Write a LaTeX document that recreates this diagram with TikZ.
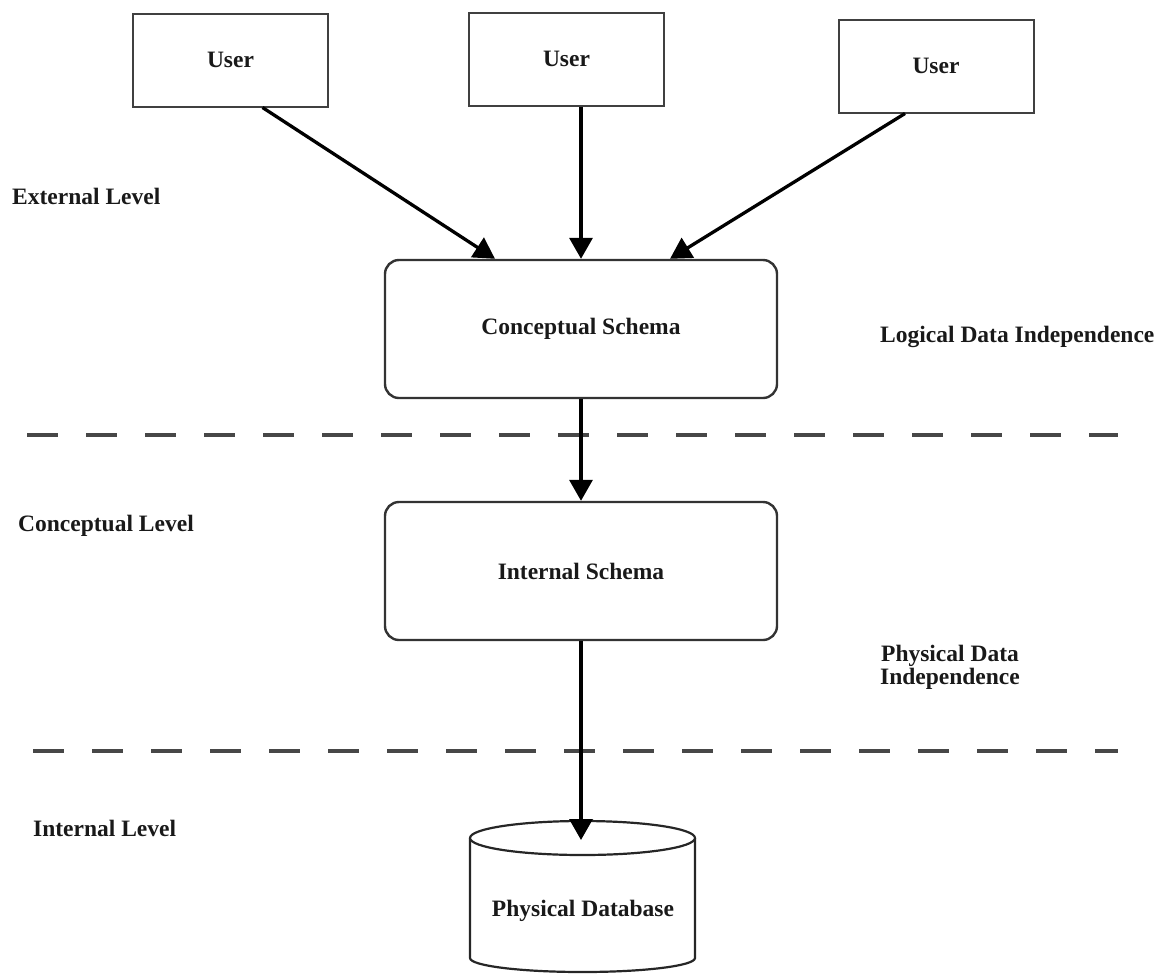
\documentclass[tikz,border=0pt]{standalone}
\usepackage{fontspec}
\setmainfont{Liberation Serif}
\usetikzlibrary{arrows.meta}
\begin{document}
\begin{tikzpicture}[x=1pt,y=-1pt,
  txt/.style={font=\fontsize{23.5}{23}\selectfont\bfseries, text=black!90, inner sep=0pt},
  userbox/.style={draw=black!75, line width=2pt, minimum width=195pt, minimum height=93pt, txt},
  schema/.style={draw=black!80, line width=2.4pt, rounded corners=14pt, minimum width=392pt, minimum height=138pt, txt},
  arr/.style={draw=black, line width=3.3pt, -{Triangle[width=23pt,length=21pt]}},
  sep/.style={draw=black!72, line width=4pt, dash pattern=on 31pt off 28pt},
  lbl/.style={txt, anchor=base west},
  dbline/.style={draw=black!85, line width=2.2pt}]
\useasboundingbox (0,0) rectangle (1156,975);
% users
\node[userbox] (u1) at (230.5,60) {User};
\node[userbox] (u2) at (566.5,59) {User};
\node[userbox] (u3) at (936,66) {User};
% schemas
\node[schema] (cs) at (581,329) {Conceptual Schema};
\node[schema] (is) at (581,571) {Internal Schema};
% separators
\draw[sep] (27,435) -- (1118,435);
\draw[sep] (33,751) -- (1118,751);
% database cylinder
\fill[white] (470,838) -- (470,958) arc[start angle=180,end angle=0,x radius=112.5,y radius=14] -- (695,838) -- cycle;
\draw[dbline] (470,838) -- (470,958) arc[start angle=180,end angle=0,x radius=112.5,y radius=14] -- (695,838);
\draw[dbline, fill=white] (582.5,838) ellipse [x radius=112.5, y radius=17];
\node[txt] (db) at (583,911) {Physical Database};
\coordinate (dbtop) at (581,840);
% arrows
\draw[arr] ([xshift=32pt]u1.south) -- ([xshift=-86pt]cs.north);
\draw[arr] (u2.south -| cs.north) -- (cs.north);
\draw[arr] ([xshift=-31pt]u3.south) -- ([xshift=89pt]cs.north);
\draw[arr] (cs.south) -- (is.north);
\draw[arr] (is.south) -- (dbtop);
% labels
\node[lbl] (ext) at (12,204) {External Level};
\node[lbl] (con) at (18,531) {Conceptual Level};
\node[lbl] (int) at (33,836) {Internal Level};
\node[lbl] (ldi) at (880,342) {Logical Data Independence};
\node[txt, align=center] (pdi) at (950,667) {Physical Data\\Independence};
\end{tikzpicture}
\end{document}
